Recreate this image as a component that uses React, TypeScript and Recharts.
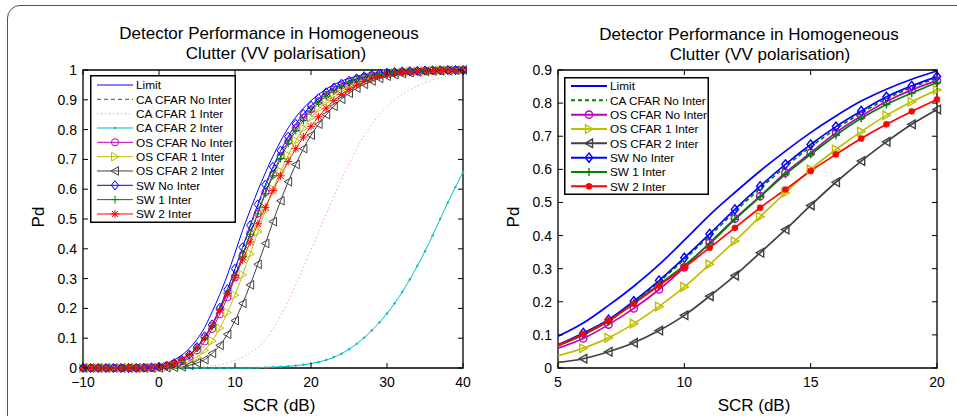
import React from 'react';
import { LineChart, Line, XAxis, YAxis, ReferenceArea } from 'recharts';

const FONT = '"Liberation Sans", Arial, Helvetica, sans-serif';

// SCR axis (dB), one point per dB
const scr = [
  -10, -9, -8, -7, -6, -5, -4, -3, -2, -1, 0, 1, 2, 3, 4, 5, 6, 7, 8, 9, 10,
  11, 12, 13, 14, 15, 16, 17, 18, 19, 20, 21, 22, 23, 24, 25, 26, 27, 28, 29, 30,
  31, 32, 33, 34, 35, 36, 37, 38, 39, 40,
];

const limit = [
  0, 0, 0, 0, 0, 0, 0.001, 0.001, 0.003, 0.005, 0.009, 0.016, 0.027, 0.043, 0.066, 0.096,
  0.136, 0.189, 0.247, 0.312, 0.386, 0.462, 0.53, 0.595, 0.655, 0.711, 0.761, 0.806, 0.842,
  0.872, 0.897, 0.918, 0.936, 0.951, 0.963, 0.972, 0.979, 0.985, 0.989, 0.992, 0.994, 0.996,
  0.997, 0.998, 0.999, 0.999, 1, 1, 1, 1, 1,
];
const caNoInter = [
  0, 0, 0, 0, 0, 0, 0, 0, 0.001, 0.002, 0.004, 0.008, 0.015, 0.027, 0.044, 0.068, 0.103,
  0.143, 0.198, 0.26, 0.328, 0.399, 0.472, 0.542, 0.608, 0.668, 0.722, 0.77, 0.813, 0.847,
  0.876, 0.901, 0.921, 0.938, 0.951, 0.962, 0.97, 0.977, 0.983, 0.987, 0.99, 0.993, 0.995,
  0.996, 0.997, 0.998, 0.999, 0.999, 1, 1, 1,
];
const ca1Inter = [
  0, 0, 0, 0, 0, 0, 0, 0, 0, 0, 0, 0, 0, 0, 0, 0.002, 0.004, 0.007, 0.011, 0.017, 0.025,
  0.036, 0.05, 0.068, 0.095, 0.13, 0.175, 0.225, 0.28, 0.337, 0.397, 0.457, 0.517, 0.576,
  0.632, 0.685, 0.735, 0.78, 0.818, 0.85, 0.877, 0.9, 0.918, 0.933, 0.946, 0.957, 0.966,
  0.974, 0.98, 0.985, 0.989,
];
const ca2Inter = [
  0, 0, 0, 0, 0, 0, 0, 0, 0, 0, 0, 0, 0, 0, 0, 0, 0, 0, 0, 0, 0, 0, 0, 0.001, 0.002, 0.003,
  0.004, 0.006, 0.008, 0.011, 0.015, 0.02, 0.027, 0.036, 0.048, 0.063, 0.081, 0.102, 0.126,
  0.153, 0.183, 0.217, 0.255, 0.297, 0.343, 0.392, 0.445, 0.5, 0.555, 0.607, 0.657,
];
const osNoInter = [
  0, 0, 0, 0, 0, 0, 0, 0, 0, 0.001, 0.003, 0.007, 0.013, 0.023, 0.038, 0.06, 0.089, 0.131,
  0.18, 0.237, 0.304, 0.378, 0.451, 0.519, 0.59, 0.65, 0.711, 0.761, 0.805, 0.84, 0.868,
  0.895, 0.917, 0.934, 0.948, 0.96, 0.969, 0.976, 0.982, 0.986, 0.989, 0.992, 0.994, 0.995,
  0.996, 0.997, 0.998, 0.999, 0.999, 1, 1,
];
const os1Inter = [
  0, 0, 0, 0, 0, 0, 0, 0, 0, 0, 0.001, 0.003, 0.006, 0.012, 0.022, 0.037, 0.06, 0.091, 0.134,
  0.186, 0.245, 0.313, 0.383, 0.457, 0.529, 0.6, 0.66, 0.714, 0.763, 0.804, 0.84, 0.87, 0.895,
  0.917, 0.935, 0.949, 0.961, 0.97, 0.977, 0.983, 0.987, 0.99, 0.993, 0.995, 0.996, 0.997,
  0.998, 0.999, 0.999, 1, 1,
];
const os2Inter = [
  0, 0, 0, 0, 0, 0, 0, 0, 0, 0, 0, 0.001, 0.002, 0.004, 0.009, 0.017, 0.028, 0.049, 0.076,
  0.113, 0.159, 0.217, 0.279, 0.348, 0.418, 0.491, 0.561, 0.625, 0.683, 0.736, 0.781, 0.818,
  0.85, 0.878, 0.902, 0.922, 0.939, 0.952, 0.963, 0.972, 0.979, 0.984, 0.988, 0.991, 0.993,
  0.995, 0.996, 0.997, 0.998, 0.999, 1,
];
const swNoInter = [
  0, 0, 0, 0, 0, 0, 0, 0, 0.001, 0.002, 0.004, 0.008, 0.016, 0.028, 0.045, 0.07, 0.106, 0.146,
  0.202, 0.264, 0.333, 0.405, 0.479, 0.549, 0.615, 0.675, 0.729, 0.776, 0.819, 0.852, 0.88,
  0.905, 0.925, 0.941, 0.954, 0.964, 0.972, 0.979, 0.984, 0.988, 0.991, 0.993, 0.995, 0.996,
  0.997, 0.998, 0.999, 0.999, 1, 1, 1,
];
const sw1Inter = [
  0, 0, 0, 0, 0, 0, 0, 0, 0.001, 0.002, 0.004, 0.008, 0.015, 0.027, 0.044, 0.067, 0.1, 0.141,
  0.197, 0.252, 0.31, 0.375, 0.449, 0.517, 0.585, 0.645, 0.703, 0.754, 0.796, 0.83, 0.862,
  0.89, 0.912, 0.93, 0.945, 0.957, 0.967, 0.975, 0.981, 0.986, 0.989, 0.992, 0.994, 0.996,
  0.997, 0.998, 0.999, 0.999, 1, 1, 1,
];
const sw2Inter = [
  0, 0, 0, 0, 0, 0, 0, 0, 0.001, 0.002, 0.004, 0.009, 0.017, 0.029, 0.046, 0.069, 0.103,
  0.143, 0.194, 0.249, 0.304, 0.363, 0.423, 0.484, 0.539, 0.595, 0.645, 0.693, 0.736, 0.775,
  0.811, 0.843, 0.872, 0.897, 0.918, 0.935, 0.949, 0.961, 0.97, 0.978, 0.983, 0.988, 0.991,
  0.993, 0.995, 0.996, 0.997, 0.998, 0.999, 0.999, 1,
];

const leftXTicks = [-10, 0, 10, 20, 30, 40];
const leftYTicks = [0, 0.1, 0.2, 0.3, 0.4, 0.5, 0.6, 0.7, 0.8, 0.9, 1];
const rightXTicks = [5, 10, 15, 20];
const rightYTicks = [0, 0.1, 0.2, 0.3, 0.4, 0.5, 0.6, 0.7, 0.8, 0.9];

const rows = scr.map((x, i) => ({
  x,
  limit: limit[i],
  caNo: caNoInter[i],
  ca1: ca1Inter[i],
  ca2: ca2Inter[i],
  osNo: osNoInter[i],
  os1: os1Inter[i],
  os2: os2Inter[i],
  swNo: swNoInter[i],
  sw1: sw1Inter[i],
  sw2: sw2Inter[i],
}));
const zoomRows = rows.filter((r) => r.x >= 5 && r.x <= 20);

type Shape = 'none' | 'point' | 'circle' | 'triR' | 'triL' | 'diamond' | 'plus' | 'star';

const SERIES: { key: string; name: string; color: string; dash?: string; shape: Shape; zoom: boolean }[] = [
  { key: 'limit', name: 'Limit', color: '#0000ff', shape: 'none', zoom: true },
  { key: 'caNo', name: 'CA CFAR No Inter', color: '#008000', dash: '4 3', shape: 'none', zoom: true },
  { key: 'ca1', name: 'CA CFAR 1 Inter', color: '#ff7f7f', dash: '1 3', shape: 'none', zoom: false },
  { key: 'ca2', name: 'CA CFAR 2 Inter', color: '#00bfbf', shape: 'point', zoom: false },
  { key: 'osNo', name: 'OS CFAR No Inter', color: '#bf00bf', shape: 'circle', zoom: true },
  { key: 'os1', name: 'OS CFAR 1 Inter', color: '#bfbf00', shape: 'triR', zoom: true },
  { key: 'os2', name: 'OS CFAR 2 Inter', color: '#404040', shape: 'triL', zoom: true },
  { key: 'swNo', name: 'SW No Inter', color: '#0000ff', shape: 'diamond', zoom: true },
  { key: 'sw1', name: 'SW 1 Inter', color: '#008000', shape: 'plus', zoom: true },
  { key: 'sw2', name: 'SW 2 Inter', color: '#ff0000', shape: 'star', zoom: true },
];

function Marker({ shape, cx, cy, color, sw, bold }: { shape: Shape; cx: number; cy: number; color: string; sw: number; bold?: boolean }) {
  switch (shape) {
    case 'point':
      return <circle cx={cx} cy={cy} r={1.2} fill={color} stroke="none" />;
    case 'circle':
      return <circle cx={cx} cy={cy} r={3.6} fill="none" stroke={color} strokeWidth={sw} />;
    case 'triR':
      return (
        <polygon
          points={`${cx + 4},${cy} ${cx - 3.5},${cy - 4.3} ${cx - 3.5},${cy + 4.3}`}
          fill="none" stroke={color} strokeWidth={sw}
        />
      );
    case 'triL':
      return (
        <polygon
          points={`${cx - 4},${cy} ${cx + 3.5},${cy - 4.3} ${cx + 3.5},${cy + 4.3}`}
          fill="none" stroke={color} strokeWidth={sw}
        />
      );
    case 'diamond':
      return (
        <polygon
          points={`${cx},${cy - 4.6} ${cx + 3.6},${cy} ${cx},${cy + 4.6} ${cx - 3.6},${cy}`}
          fill="none" stroke={color} strokeWidth={sw}
        />
      );
    case 'plus':
      return (
        <g stroke={color} strokeWidth={sw}>
          <line x1={cx - 4} y1={cy} x2={cx + 4} y2={cy} />
          <line x1={cx} y1={cy - 4} x2={cx} y2={cy + 4} />
        </g>
      );
    case 'star': {
      const r = bold ? 3.3 : 4;
      const d = r * 0.75;
      return (
        <g stroke={color} strokeWidth={bold ? 2 : sw}>
          <line x1={cx - r} y1={cy} x2={cx + r} y2={cy} />
          <line x1={cx} y1={cy - r} x2={cx} y2={cy + r} />
          <line x1={cx - d} y1={cy - d} x2={cx + d} y2={cy + d} />
          <line x1={cx - d} y1={cy + d} x2={cx + d} y2={cy - d} />
        </g>
      );
    }
    default:
      return null;
  }
}

function makeDot(shape: Shape, color: string, sw: number, bold: boolean, skipX?: number) {
  return (props: any) => {
    const { cx, cy, index, payload } = props;
    if (shape === 'none' || cx == null || cy == null || (skipX !== undefined && payload.x === skipX)) {
      return <g key={`d-${index}`} />;
    }
    return (
      <g key={`d-${index}`}>
        <Marker shape={shape} cx={cx} cy={cy} color={color} sw={sw} bold={bold} />
      </g>
    );
  };
}

const fmtY = (v: number) => (v === 0 ? '0' : v === 1 ? '1' : v.toFixed(1));
const fmtX = (v: number) => (v < 0 ? `\u2212${Math.abs(v)}` : `${v}`);

type Box = { left: number; right: number; top: number; bottom: number };

function XTick(props: any & { box: Box }) {
  const { x, payload, box } = props;
  return (
    <g>
      <line x1={x} y1={box.bottom} x2={x} y2={box.bottom - 5} stroke="#000" />
      <line x1={x} y1={box.top} x2={x} y2={box.top + 5} stroke="#000" />
      <text x={x} y={box.bottom + 19} textAnchor="middle" fontSize={14} fontFamily={FONT} fill="#000">
        {fmtX(payload.value)}
      </text>
    </g>
  );
}

function YTick(props: any & { box: Box }) {
  const { y, payload, box } = props;
  return (
    <g>
      <line x1={box.left} y1={y} x2={box.left + 5} y2={y} stroke="#000" />
      <line x1={box.right} y1={y} x2={box.right - 5} y2={y} stroke="#000" />
      <text x={box.left - 6} y={y + 5} textAnchor="end" fontSize={14} fontFamily={FONT} fill="#000">
        {fmtY(payload.value)}
      </text>
    </g>
  );
}

function Panel({
  data, width, box, xDomain, yDomain, xTicks, yTicks, zoom,
}: {
  data: any[]; width: number; box: Box; xDomain: [number, number]; yDomain: [number, number];
  xTicks: number[]; yTicks: number[]; zoom: boolean;
}) {
  const height = 416;
  const yAxisW = 50;
  const xAxisH = 30;
  const lw = zoom ? 1.7 : 1;
  const msw = zoom ? 1.4 : 1;
  const series = SERIES.filter((s) => !zoom || s.zoom);
  return (
    <LineChart
      width={width}
      height={height}
      data={data}
      margin={{ top: box.top, right: width - box.right, bottom: height - box.bottom - xAxisH, left: box.left - yAxisW }}
    >
      <XAxis
        type="number"
        dataKey="x"
        domain={xDomain}
        ticks={xTicks}
        interval={0}
        height={xAxisH}
        axisLine={false}
        tickLine={false}
        tick={(p: any) => <XTick {...p} box={box} />}
      />
      <YAxis
        type="number"
        domain={yDomain}
        ticks={yTicks}
        interval={0}
        width={yAxisW}
        axisLine={false}
        tickLine={false}
        tick={(p: any) => <YTick {...p} box={box} />}
      />
      <ReferenceArea
        x1={xDomain[0]}
        x2={xDomain[1]}
        y1={yDomain[0]}
        y2={yDomain[1]}
        fill="none"
        fillOpacity={0}
        stroke="#000"
        strokeWidth={1.3}
      />
      {series.map((s) => (
        <Line
          key={s.key}
          type="monotone"
          dataKey={s.key}
          stroke={s.color}
          strokeWidth={lw}
          strokeDasharray={s.dash}
          dot={makeDot(s.shape, s.color, msw, zoom, zoom ? 5 : undefined)}
          activeDot={false}
          isAnimationActive={false}
        />
      ))}
    </LineChart>
  );
}

function LegendBox({
  left, top, width, height, sampleX0, sampleX1, textX, firstY, zoom,
}: {
  left: number; top: number; width: number; height: number; sampleX0: number; sampleX1: number;
  textX: number; firstY: number; zoom: boolean;
}) {
  const series = SERIES.filter((s) => !zoom || s.zoom);
  const lw = zoom ? 2 : 1;
  const msw = zoom ? 1.4 : 1;
  const step = 14.33;
  const mid = (sampleX0 + sampleX1) / 2;
  return (
    <svg style={{ position: 'absolute', left, top, overflow: 'visible' }} width={width} height={height}>
      <rect x={0.75} y={0.75} width={width - 1.5} height={height - 1.5} fill="#fff" stroke="#000" strokeWidth={1.5} />
      {series.map((s, i) => {
        const cy = firstY + i * step;
        return (
          <g key={s.key}>
            <line x1={sampleX0} y1={cy} x2={sampleX1} y2={cy} stroke={s.color} strokeWidth={lw} strokeDasharray={s.dash} />
            <Marker shape={s.shape} cx={mid} cy={cy} color={s.color} sw={msw} bold={zoom} />
            <text x={textX} y={cy + 4.2} fontSize={11.8} fontFamily={FONT} fill="#000">
              {s.name}
            </text>
          </g>
        );
      })}
    </svg>
  );
}

const textStyle: React.CSSProperties = {
  position: 'absolute',
  fontFamily: FONT,
  color: '#000',
  whiteSpace: 'nowrap',
  transform: 'translate(-50%, -50%)',
  lineHeight: 1,
};

export default function App() {
  const leftBox = { left: 83, right: 463, top: 70, bottom: 368 };
  const rightBox = { left: 78, right: 457, top: 70, bottom: 368 };
  return (
    <div style={{ position: 'fixed', left: 0, top: 0, width: 957, height: 416, overflow: 'hidden', background: '#fff' }}>
      <div
        style={{
          position: 'absolute', left: 7, top: 5, width: 1100, height: 600,
          border: '1px solid #555', borderRadius: 13, boxSizing: 'border-box',
        }}
      />
      <div style={{ position: 'absolute', left: 0, top: 0 }}>
        <Panel data={rows} width={480} box={leftBox} xDomain={[-10, 40]} yDomain={[0, 1]} xTicks={leftXTicks} yTicks={leftYTicks} zoom={false} />
      </div>
      <div style={{ position: 'absolute', left: 480, top: 0 }}>
        <Panel data={zoomRows} width={477} box={rightBox} xDomain={[5, 20]} yDomain={[0, 0.9]} xTicks={rightXTicks} yTicks={rightYTicks} zoom />
      </div>

      <LegendBox left={90} top={75} width={146} height={148} sampleX0={7} sampleX1={43} textX={46} firstY={10} zoom={false} />
      <LegendBox left={564} top={77} width={145} height={118} sampleX0={7} sampleX1={43} textX={46} firstY={9} zoom />

      <div style={{ ...textStyle, left: 269, top: 33, fontSize: 17 }}>Detector Performance in Homogeneous</div>
      <div style={{ ...textStyle, left: 276, top: 53, fontSize: 17 }}>Clutter (VV polarisation)</div>
      <div style={{ ...textStyle, left: 749, top: 34, fontSize: 17 }}>Detector Performance in Homogeneous</div>
      <div style={{ ...textStyle, left: 760, top: 54, fontSize: 17 }}>Clutter (VV polarisation)</div>

      <div style={{ ...textStyle, left: 38, top: 217, fontSize: 17, transform: 'translate(-50%, -50%) rotate(-90deg)' }}>Pd</div>
      <div style={{ ...textStyle, left: 513, top: 217, fontSize: 17, transform: 'translate(-50%, -50%) rotate(-90deg)' }}>Pd</div>
      <div style={{ ...textStyle, left: 279, top: 405, fontSize: 17 }}>SCR (dB)</div>
      <div style={{ ...textStyle, left: 754, top: 405, fontSize: 17 }}>SCR (dB)</div>
    </div>
  );
}
